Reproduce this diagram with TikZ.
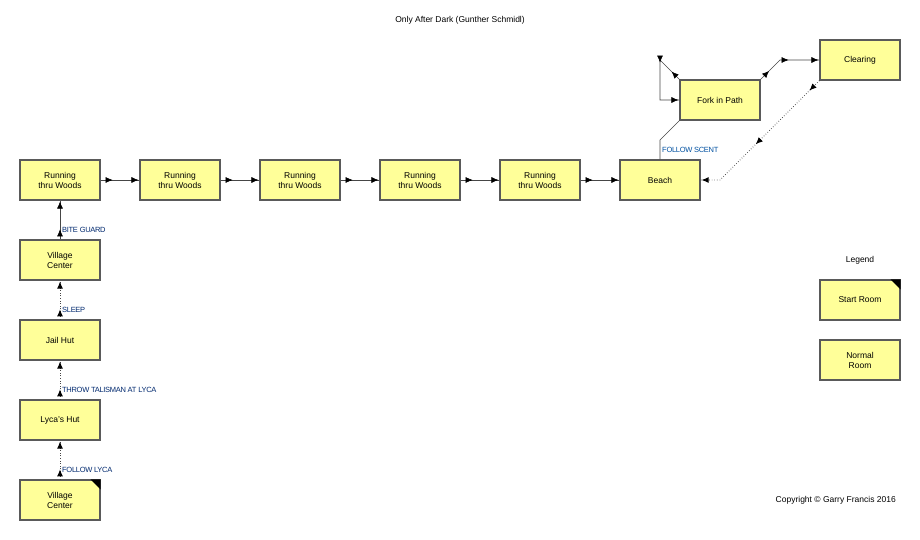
\documentclass[tikz,border=0pt]{standalone}
\usepackage{fontspec}
\setmainfont{Liberation Sans}
\usetikzlibrary{arrows.meta,decorations.markings}
\begin{document}
\begin{tikzpicture}[x=1pt,y=-1pt,
  room/.style={draw={rgb,255:red,90;green,90;blue,90},line width=1.2pt,fill={rgb,255:red,255;green,255;blue,153},minimum width=80pt,minimum height=40pt,inner sep=0pt,align=center,font=\fontsize{8.5}{10}\selectfont},
  lbl/.style={font=\fontsize{7.5}{9}\selectfont\addfontfeatures{LetterSpace=-4},text={rgb,255:red,0;green,40;blue,110},inner sep=0pt},
  con/.style={draw={rgb,255:red,70;green,70;blue,70},line width=0.6pt},
  dot/.style={con,dotted,line width=0.9pt},
  ar/.style={postaction={decorate,decoration={markings,mark=at position #1 with {\arrow[black]{Latex[length=7pt,width=6pt]}}}}},
  txt/.style={font=\fontsize{8.5}{10}\selectfont,inner sep=0pt}]
\useasboundingbox (0,0) rectangle (920,540);
\node[txt] (title) at (460,20) {Only After Dark (Gunther Schmidl)};
\foreach \i/\x in {1/60,2/180,3/300,4/420,5/540}
  \node[room] (r\i) at (\x,180) {Running\\thru Woods};
\node[room] (beach) at (660,180) {Beach};
\node[room] (fork) at (720,100) {Fork in Path};
\node[room] (clear) at (860,60) {Clearing};
\node[room] (vc2) at (60,260) {Village\\Center};
\node[room] (jail) at (60,340) {Jail Hut};
\node[room] (lyca) at (60,420) {Lyca's Hut};
\node[room] (vc1) at (60,500) {Village\\Center};
\fill (vc1.north east) -- ++(-10,0) -- ++(10,10) -- cycle;
\node[txt] (leg) at (860,260) {Legend};
\node[room] (start) at (860,300) {Start Room};
\fill (start.north east) -- ++(-10,0) -- ++(10,10) -- cycle;
\node[room] (normal) at (860,360) {Normal\\Room};
\node[txt,anchor=east] (copy) at (896,500) {Copyright © Garry Francis 2016};
% row
\foreach \a/\b in {r1/r2,r2/r3,r3/r4,r4/r5,r5/beach}
  \path[con,ar=12pt,ar=-1pt] (\a.east) -- (\b.west);
% column
\path[dot,ar=10pt,ar=-1pt] (vc1.north) -- (lyca.south);
\path[dot,ar=10pt,ar=-1pt] (lyca.north) -- (jail.south);
\path[dot,ar=10pt,ar=-1pt] (jail.north) -- (vc2.south);
\path[con,ar=10pt,ar=-1pt] (vc2.north) -- (r1.south);
\node[lbl,anchor=west] (l1) at (62,470) {FOLLOW LYCA};
\node[lbl,anchor=west] (l2) at (62,390) {THROW TALISMAN AT LYCA};
\node[lbl,anchor=west] (l3) at (62,310) {SLEEP};
\node[lbl,anchor=west] (l4) at (62,230) {BITE GUARD};
% beach - fork
\coordinate (b1) at (660,140);
\path[con] (beach.north) -- (b1) -- (fork.south west);
\node[lbl,anchor=west,text={rgb,255:red,0;green,80;blue,160}] (l5) at (662,150) {FOLLOW SCENT};
% self loop
\coordinate (s1) at (660,60);
\coordinate (s2) at (660,100);
\path[con,ar=11pt,ar=30pt,ar=-1pt] (fork.north west) -- (s1) -- (s2) -- (fork.west);
% fork - clearing
\coordinate (c1) at (780,60);
\path[con,ar=12pt,ar=36pt,ar=-1pt] (fork.north east) -- (c1) -- (clear.west);
% clearing - beach
\coordinate (d1) at (720,180);
\path[dot,ar=14pt,ar=90pt,ar=-1pt] (clear.south west) -- (d1) -- (beach.east);
\end{tikzpicture}
\end{document}
